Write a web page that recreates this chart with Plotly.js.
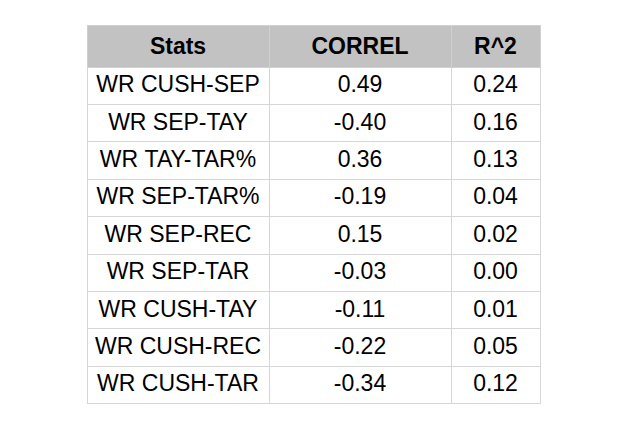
<!DOCTYPE html>
<html>
<head>
<meta charset="utf-8">
<script src="https://cdn.plot.ly/plotly-3.0.1.min.js"></script>
<style>html,body{margin:0;padding:0;background:#fff;}#chart{width:617px;height:426px;}</style>
</head>
<body>
<div id="chart"></div>
<script>
const headers = ["Stats", "CORREL", "R^2"];
const stats = ["WR CUSH-SEP", "WR SEP-TAY", "WR TAY-TAR%", "WR SEP-TAR%", "WR SEP-REC", "WR SEP-TAR", "WR CUSH-TAY", "WR CUSH-REC", "WR CUSH-TAR"];
const correl = ["0.49", "-0.40", "0.36", "-0.19", "0.15", "-0.03", "-0.11", "-0.22", "-0.34"];
const r2 = ["0.24", "0.16", "0.13", "0.04", "0.02", "0.00", "0.01", "0.05", "0.12"];

// non-breaking spaces keep each label on one line
const statsShown = stats.map(s => s.replace(/ /g, "\u00a0"));

const trace = {
  type: "table",
  columnwidth: [182, 182, 89],
  domain: {x: [87/617, 540/617], y: [0, 1 - 25/426]},
  header: {
    values: headers.map(h => "<b>" + h + "</b>"),
    align: "center",
    height: 37.5,
    fill: {color: "#c2c2c2"},
    line: {color: "#d0d0d0", width: 1},
    font: {family: "Liberation Sans, Arial, sans-serif", size: 23, color: "#000"}
  },
  cells: {
    values: [statsShown, correl, r2],
    align: "center",
    height: 37.4,
    fill: {color: "#ffffff"},
    line: {color: "#d6d6d6", width: 1},
    font: {family: "Liberation Sans, Arial, sans-serif", size: 23, color: "#000"}
  }
};

Plotly.newPlot("chart", [trace], {
  width: 617, height: 426,
  margin: {l: 0, r: 0, t: 0, b: 0},
  paper_bgcolor: "#fff"
}, {displayModeBar: false, staticPlot: true});
</script>
</body>
</html>
